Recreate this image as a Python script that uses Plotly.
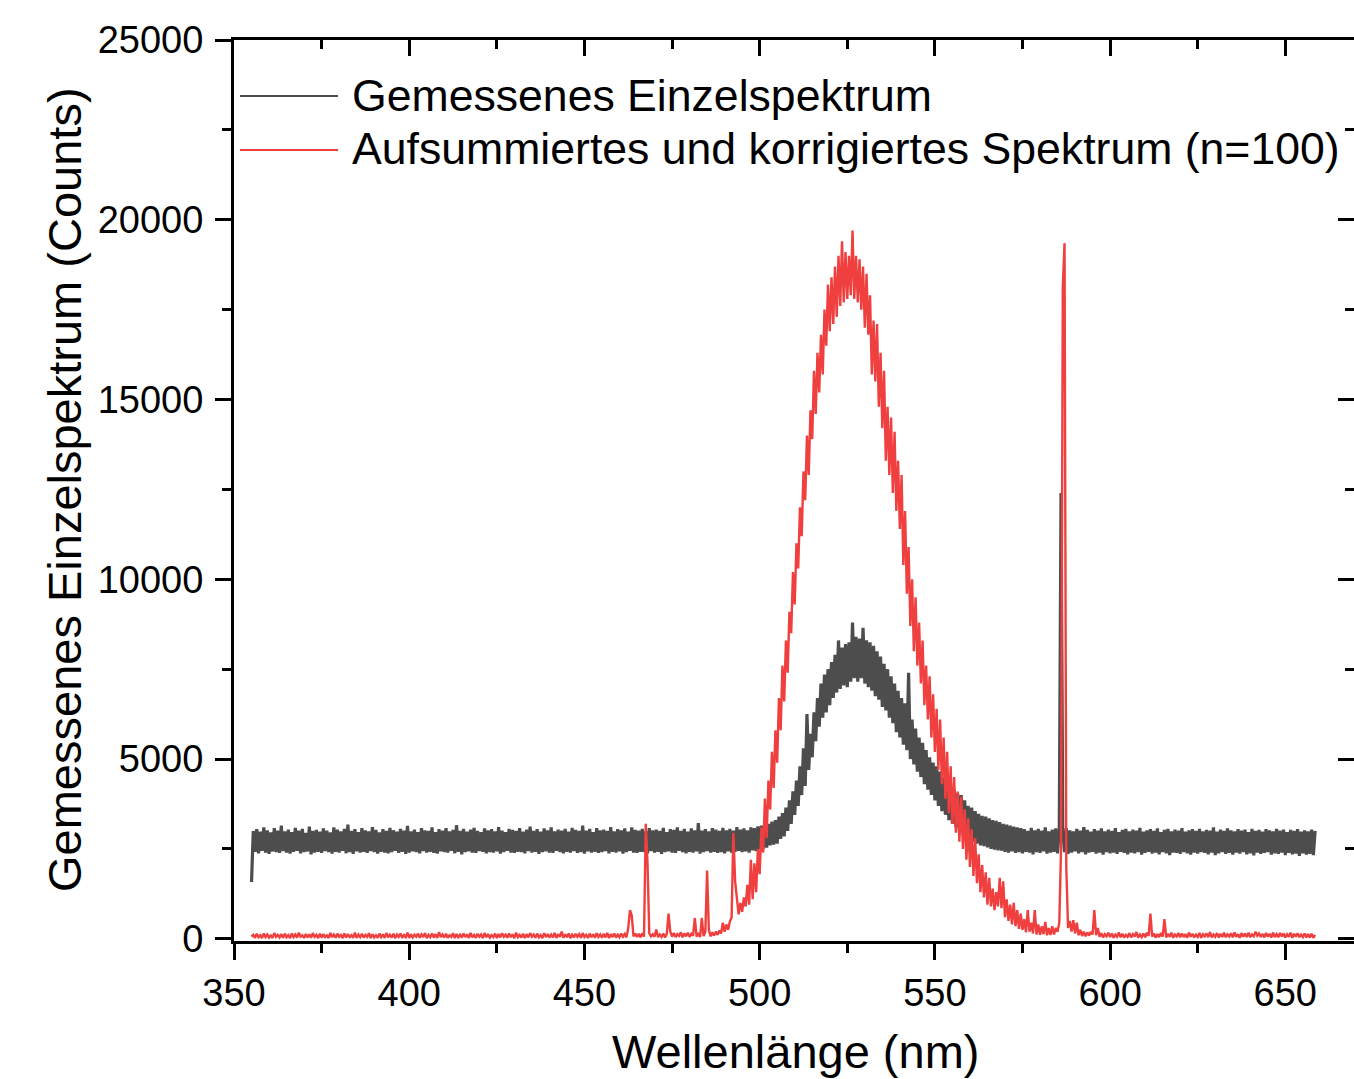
import numpy as np
import plotly.graph_objects as go

# ---------------- data ----------------
# wavelength grid (nm); each wavelength carries a low sample (at lam) and a
# high sample (at lam + 0.5) of the noisy spectrum
wavelength_start = 355
wavelength_stop = 658

series_names = ["Gemessenes Einzelspektrum",
                "Aufsummiertes und korrigiertes Spektrum (n=100)"]

black_lo = [
    1580, 2420, 2380, 2450, 2400, 2360, 2430, 2410, 2390, 2440,  # 355
    2400, 2370, 2420, 2450, 2380, 2410, 2430, 2350, 2400, 2420,  # 365
    2390, 2440, 2410, 2370, 2420, 2400, 2450, 2380, 2410, 2360,  # 375
    2430, 2400, 2420, 2390, 2440, 2410, 2370, 2420, 2400, 2380,  # 385
    2410, 2450, 2390, 2420, 2360, 2400, 2430, 2410, 2380, 2440,  # 395
    2400, 2420, 2390, 2370, 2430, 2410, 2400, 2450, 2380, 2420,  # 405
    2350, 2410, 2430, 2400, 2390, 2440, 2420, 2380, 2410, 2400,  # 415
    2430, 2370, 2410, 2450, 2400, 2390, 2420, 2410, 2380, 2440,  # 425
    2400, 2420, 2360, 2410, 2430, 2400, 2390, 2450, 2410, 2380,  # 435
    2420, 2400, 2440, 2390, 2410, 2370, 2430, 2400, 2420, 2390,  # 445
    2410, 2440, 2380, 2420, 2400, 2430, 2370, 2410, 2450, 2400,  # 455
    2390, 2420, 2410, 2380, 2440, 2400, 2420, 2360, 2410, 2430,  # 465
    2400, 2390, 2450, 2410, 2380, 2420, 2400, 2430, 2370, 2410,  # 475
    2440, 2400, 2420, 2390, 2410, 2380, 2430, 2400, 2420, 2450,  # 485
    2410, 2430, 2400, 2460, 2440, 2480, 2500, 2540, 2600, 2620,  # 495
    2650, 2780, 2850, 3000, 3200, 3450, 3700, 4000, 4250, 4700,  # 505
    5050, 5500, 5900, 6150, 6300, 6500, 6700, 6850, 6950, 7050,  # 515
    7000, 7150, 7250, 7150, 7250, 7100, 7000, 6900, 6750, 6650,  # 525
    6450, 6350, 6150, 6000, 5750, 5600, 5400, 5250, 5000, 4850,  # 535
    4650, 4500, 4300, 4150, 4000, 3850, 3700, 3550, 3450, 3300,  # 545
    3200, 3100, 3000, 2900, 2850, 2780, 2700, 2650, 2600, 2580,  # 555
    2540, 2500, 2480, 2460, 2450, 2420, 2400, 2430, 2390, 2410,  # 565
    2380, 2420, 2400, 2350, 2410, 2390, 2430, 2370, 2400, 2420,  # 575
    2380, 12400, 2410, 2360, 2400, 2430, 2380, 2410, 2350, 2400,  # 585
    2420, 2370, 2400, 2340, 2410, 2380, 2400, 2360, 2420, 2390,  # 595
    2350, 2400, 2380, 2410, 2340, 2390, 2420, 2370, 2400, 2350,  # 605
    2410, 2380, 2330, 2400, 2390, 2360, 2410, 2380, 2340, 2400,  # 615
    2370, 2410, 2390, 2350, 2400, 2330, 2380, 2410, 2360, 2390,  # 625
    2340, 2400, 2370, 2410, 2350, 2380, 2320, 2400, 2360, 2390,  # 635
    2410, 2340, 2380, 2360, 2400, 2330, 2390, 2350, 2370, 2310,  # 645
    2380, 2340, 2360, 2330,                                      # 655
]

black_hi = [
    3000, 3050, 2980, 3100, 3020, 2960, 3080, 3010, 3150, 2990,  # 355
    3040, 2970, 3090, 3010, 3060, 2950, 3120, 3000, 3030, 2980,  # 365
    3070, 3010, 2960, 3100, 3040, 2990, 3060, 3180, 3000, 3050,  # 375
    2970, 3080, 3020, 2990, 3110, 3030, 2960, 3050, 3000, 3090,  # 385
    3020, 2980, 3060, 3010, 3140, 2990, 3040, 2970, 3080, 3020,  # 395
    3000, 3100, 2970, 3050, 3010, 3080, 2990, 3030, 3160, 3000,  # 405
    3060, 2980, 3040, 3090, 3000, 2970, 3070, 3020, 3050, 2990,  # 415
    3110, 3010, 2970, 3060, 3030, 3000, 3080, 2980, 3040, 3120,  # 425
    3000, 3050, 2980, 3070, 3020, 3100, 2990, 3040, 3010, 3060,  # 435
    2980, 3090, 3030, 3000, 3150, 3010, 3060, 2970, 3080, 3020,  # 445
    3040, 3000, 3110, 2990, 3050, 3020, 3070, 2980, 3100, 3030,  # 455
    3010, 3060, 2990, 3080, 3020, 3040, 3000, 3090, 2970, 3050,  # 465
    3030, 3100, 3000, 3060, 2980, 3070, 3020, 3220, 3010, 3050,  # 475
    2990, 3080, 3040, 3000, 3090, 3020, 3060, 3010, 3110, 3040,  # 485
    3070, 3020, 3100, 3080, 3130, 3150, 3120, 3200, 3260, 3300,  # 495
    3400, 3500, 3650, 3850, 4100, 4400, 4800, 5300, 6250, 5700,  # 505
    6300, 6700, 7100, 7350, 7500, 7700, 7900, 8300, 8100, 8200,  # 515
    8250, 8800, 8400, 8350, 8650, 8300, 8250, 8150, 8000, 7850,  # 525
    7650, 7500, 7300, 7100, 6900, 6700, 6550, 7400, 6100, 5850,  # 535
    5600, 5450, 5250, 5050, 4900, 4800, 4650, 4500, 4350, 4250,  # 545
    4150, 4050, 4000, 3850, 3700, 3650, 3550, 3480, 3420, 3400,  # 555
    3350, 3300, 3280, 3250, 3200, 3180, 3150, 3120, 3100, 3080,  # 565
    3050, 3000, 3090, 3020, 3060, 3010, 3100, 2990, 3040, 3070,  # 575
    3050, 3000, 3080, 3020, 2990, 3060, 3010, 3110, 3030, 2980,  # 585
    3050, 3010, 3070, 2990, 3040, 3000, 3080, 2970, 3030, 3060,  # 595
    2990, 3040, 3010, 3090, 2980, 3020, 3050, 3000, 3070, 2970,  # 605
    3030, 3060, 2990, 3040, 3010, 3080, 2980, 3020, 3050, 3000,  # 615
    3060, 2990, 3030, 3010, 3100, 2980, 3040, 3000, 3070, 3020,  # 625
    2990, 3050, 3010, 3040, 2970, 3060, 3000, 3030, 2980, 3050,  # 635
    3020, 2990, 3060, 3010, 3040, 2970, 3030, 3000, 3050, 2980,  # 645
    3020, 2990, 3040, 3000,                                      # 655
]

red_lo = [
    60, 30, 45, 20, 50, 35, 25, 55, 40, 30,                      # 355
    45, 20, 50, 35, 60, 25, 40, 30, 55, 20,                      # 365
    35, 50, 25, 45, 30, 60, 20, 40, 50, 30,                      # 375
    25, 45, 35, 55, 20, 40, 30, 50, 25, 45,                      # 385
    35, 20, 55, 30, 45, 25, 40, 60, 30, 50,                      # 395
    20, 45, 35, 25, 50, 40, 30, 55, 20, 45,                      # 405
    35, 50, 25, 40, 30, 60, 20, 45, 35, 50,                      # 415
    25, 40, 55, 30, 45, 20, 50, 35, 25, 40,                      # 425
    60, 30, 45, 20, 50, 35, 40, 25, 55, 30,                      # 435
    45, 20, 40, 60, 30, 50, 25, 45, 35, 55,                      # 445
    30, 40, 20, 50, 35, 45, 60, 40, 800, 70,                     # 455
    50, 40, 60, 2100, 70, 60, 45, 55, 40, 700,                   # 465
    60, 50, 80, 45, 70, 55, 90, 60, 50, 75,                      # 475
    1900, 70, 90, 110, 150, 200, 250, 600, 1600, 680,            # 485
    750, 900, 950, 1100, 1300, 1800, 2400, 2800, 3600, 4200,     # 495
    4900, 5800, 6600, 7400, 8500, 9300, 10300, 11200, 12200, 12900,        # 505
    13900, 14600, 15200, 15700, 16500, 16900, 17100, 17300, 17600, 17700,  # 515
    17800, 17900, 17800, 17700, 17500, 17000, 16800, 15700, 15500, 14800,  # 525
    14200, 13300, 12900, 12400, 11900, 11400, 10400, 9600, 8700, 8000,     # 535
    7600, 7100, 6500, 6100, 5600, 5200, 4700, 4300, 3900, 3500,  # 545
    3200, 2950, 2700, 2500, 2200, 2000, 1750, 1550, 1300, 1150,  # 555
    950, 900, 800, 900, 850, 600, 500, 400, 350, 280,            # 565
    250, 180, 200, 150, 120, 110, 130, 100, 110, 120,            # 575
    200, 2500, 19350, 300, 200, 150, 100, 80, 70, 90,            # 585
    120, 100, 60, 40, 70, 50, 30, 60, 45, 35,                    # 595
    55, 40, 65, 30, 50, 45, 80, 60, 35, 50,                      # 605
    60, 40, 55, 30, 65, 45, 50, 35, 60, 40,                      # 615
    55, 30, 70, 45, 40, 60, 35, 50, 45, 65,                      # 625
    40, 55, 30, 60, 50, 45, 70, 90, 55, 40,                      # 635
    60, 35, 50, 45, 65, 40, 55, 30, 60, 45,                      # 645
    50, 40, 35, 30,                                              # 655
]

red_hi = [
    110, 140, 100, 150, 120, 95, 160, 110, 130, 145,             # 355
    105, 150, 120, 170, 100, 135, 125, 160, 110, 140,            # 365
    130, 95, 165, 120, 145, 110, 150, 130, 100, 175,             # 375
    120, 140, 110, 155, 130, 100, 145, 125, 160, 115,            # 385
    140, 120, 150, 105, 170, 130, 115, 145, 125, 160,            # 395
    110, 150, 130, 185, 120, 140, 100, 155, 135, 115,            # 405
    150, 125, 165, 110, 140, 120, 160, 130, 105, 145,            # 415
    135, 155, 115, 150, 125, 170, 110, 140, 130, 160,            # 425
    120, 145, 105, 155, 135, 120, 165, 130, 200, 125,            # 435
    150, 115, 140, 130, 160, 110, 145, 125, 155, 120,            # 445
    140, 165, 130, 150, 115, 145, 135, 300, 650, 150,            # 455
    140, 160, 3200, 150, 130, 260, 120, 150, 140, 200,           # 465
    160, 130, 180, 150, 170, 140, 580, 160, 580, 190,            # 475
    250, 180, 200, 230, 450, 400, 480, 2950, 1200, 1000,         # 485
    1150, 1500, 2200, 2100, 2500, 3100, 3900, 4400, 5200, 5800,  # 495
    6700, 7600, 8300, 9100, 10200, 11000, 12000, 13000, 14000, 14700,      # 505
    15800, 16300, 16800, 17500, 18200, 18400, 18700, 19000, 19400, 19100,  # 515
    19000, 19700, 19000, 18900, 18700, 18500, 17900, 17200, 17100, 16300,  # 525
    15800, 14800, 14500, 14100, 13300, 12900, 11900, 10900, 10000, 9500,   # 535
    8800, 8300, 7600, 7300, 6800, 6400, 6100, 5600, 5200, 4800,  # 545
    4500, 4100, 3950, 3600, 3350, 3050, 2800, 2350, 2050, 1850,  # 555
    1700, 1400, 1300, 1700, 1600, 1100, 950, 1000, 800, 700,     # 565
    550, 800, 450, 800, 400, 350, 470, 300, 350, 300,            # 575
    450, 18100, 2000, 500, 520, 450, 250, 200, 180, 200,         # 585
    800, 300, 160, 130, 170, 150, 120, 180, 140, 110,            # 595
    160, 130, 190, 120, 150, 170, 700, 150, 130, 160,            # 605
    550, 140, 170, 120, 160, 150, 130, 175, 140, 120,            # 615
    165, 130, 150, 185, 120, 160, 140, 170, 125, 155,            # 625
    180, 130, 160, 145, 170, 120, 200, 150, 135, 165,            # 635
    140, 175, 130, 160, 150, 125, 170, 140, 155, 120,            # 645
    150, 130, 140, 110,                                          # 655
]

x_ticks = [350, 400, 450, 500, 550, 600, 650]
x_tick_text = ["350", "400", "450", "500", "550", "600", "650"]
y_ticks = [0, 5000, 10000, 15000, 20000, 25000]
y_tick_text = ["0", "5000", "10000", "15000", "20000", "25000"]

x_title = "Wellenlänge (nm)"
y_title = "Gemessenes Einzelspektrum (Counts)"

# ---------------- build traces ----------------
lam = np.arange(wavelength_start, wavelength_stop + 1)
for arr in (black_lo, black_hi, red_lo, red_hi):
    assert len(arr) == len(lam), len(arr)


def interleave(a, b):
    out = np.empty(2 * len(a))
    out[0::2] = a
    out[1::2] = b
    return out


x_all = interleave(lam, lam + 0.5)
y_black = interleave(black_lo, black_hi)
y_red = interleave(red_lo, red_hi)

BLACK = "#4d4d4d"
RED = "#f03f3f"
FONT = "Liberation Sans, Arial, Helvetica, sans-serif"

W, H = 1354, 1079
ML, MR, MT, MB = 234, 0, 40, 138
XR = [350, 669.6]
YR = [-60, 25000]

fig = go.Figure()
fig.add_trace(go.Scatter(x=x_all, y=y_black, mode="lines", name=series_names[0],
                         line=dict(color=BLACK, width=3.2), showlegend=False))
fig.add_trace(go.Scatter(x=x_all, y=y_red, mode="lines", name=series_names[1],
                         line=dict(color=RED, width=2.4), showlegend=False,
                         xaxis="x2", yaxis="y2"))

tickfont = dict(family=FONT, size=38, color="black")
titlefont = dict(family=FONT, size=47, color="black")

common = dict(showgrid=False, zeroline=False, showline=True, linewidth=3,
              linecolor="black", tickcolor="black", tickwidth=3)

fig.update_layout(
    width=W, height=H,
    margin=dict(l=ML, r=MR, t=MT, b=MB, pad=0),
    plot_bgcolor="white", paper_bgcolor="white",
    showlegend=False,
    xaxis=dict(range=XR, tickvals=x_ticks, ticktext=x_tick_text,
               ticks="outside", ticklen=16, tickfont=tickfont,
               minor=dict(dtick=25, tick0=350, ticks="outside", ticklen=9,
                          tickwidth=3, tickcolor="black", showgrid=False),
               automargin=False, **common),
    yaxis=dict(range=YR, tickvals=y_ticks, ticktext=y_tick_text,
               ticks="outside", ticklen=16, tickfont=tickfont,
               ticklabelstandoff=4,
               minor=dict(dtick=2500, tick0=0, ticks="outside", ticklen=9,
                          tickwidth=3, tickcolor="black", showgrid=False),
               automargin=False, **common),
    xaxis2=dict(range=XR, overlaying="x", side="top", anchor="y2",
                tickvals=x_ticks, ticks="inside", ticklen=16,
                showticklabels=False,
                minor=dict(dtick=25, tick0=350, ticks="inside", ticklen=9,
                           tickwidth=3, tickcolor="black", showgrid=False),
                **common),
    yaxis2=dict(range=YR, overlaying="y", side="right", anchor="x2",
                tickvals=y_ticks, ticks="inside", ticklen=16,
                showticklabels=False,
                minor=dict(dtick=2500, tick0=0, ticks="inside", ticklen=9,
                           tickwidth=3, tickcolor="black", showgrid=False),
                **common),
)

# ---------------- helpers for pixel-based placement ----------------
PW = W - ML - MR
PH = H - MT - MB


def px_x(px):
    return (px - ML) / PW


def px_y(py):
    return (H - MB - py) / PH


# axis titles
fig.add_annotation(xref="paper", yref="paper", x=px_x(64), y=px_y(490),
                   xanchor="center", yanchor="middle", showarrow=False,
                   textangle=-90, text=y_title, font=titlefont)
fig.add_annotation(xref="paper", yref="paper", x=px_x(795), y=px_y(1051),
                   xanchor="center", yanchor="middle", showarrow=False,
                   text=x_title, font=titlefont)

# ---------------- legend (drawn inside the plot, top-left) ----------------
legend_rows = [(series_names[0], BLACK, 96), (series_names[1], RED, 150)]
for name, color, py in legend_rows:
    fig.add_shape(type="line", xref="paper", yref="paper",
                  x0=px_x(240), x1=px_x(338), y0=px_y(py), y1=px_y(py),
                  line=dict(color=color, width=2))
    fig.add_annotation(xref="paper", yref="paper", x=px_x(350), y=px_y(py - 1),
                       xanchor="left", yanchor="middle", showarrow=False,
                       text=name, font=dict(family=FONT, size=44.6, color="black"))

fig.write_html("out.html")
